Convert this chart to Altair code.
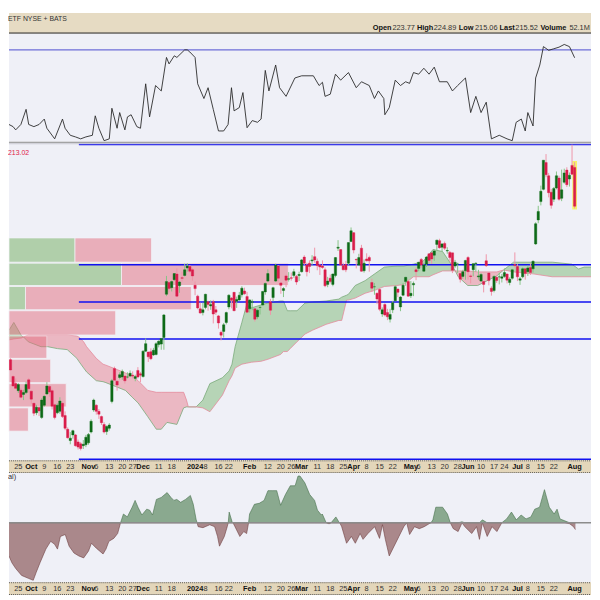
import altair as alt
import pandas as pd
import numpy as np

# ---------------- calendar (categories) ----------------
holidays = ["2023-11-23", "2023-12-25", "2024-01-01", "2024-01-15", "2024-02-19",
            "2024-03-29", "2024-05-27", "2024-06-19", "2024-07-04"]
all_days = [d.strftime("%Y-%m-%d") for d in pd.bdate_range("2023-09-20", "2024-08-01")]
days = [d for d in all_days if d not in holidays]
day_pos = {d: i - 3 for i, d in enumerate(days)}   # 2023-09-25 -> 0

# ---------------- daily candles ----------------
opens = [182.9,179.3,177.8,176.3,176.4,175.5,175.9,178.6,
  176.2,173.6,171.6,172.7,170.6,173.2,175.6,177.2,176.3,173.3,171.6,171.9,173.6,171.0,168.1,165.7,166.9,166.9,165.4,165.0,164.6,164.8,
  165.2,167.5,172.2,173.2,171.9,170.8,169.1,167.6,168.3,174.0,181.0,178.3,179.1,179.2,179.4,179.2,179.4,179.6,178.9,180.6,179.9,
  179.3,184.7,184.5,184.6,183.9,184.0,186.1,186.2,187.6,196.8,199.3,198.2,199.9,201.1,198.6,200.3,200.8,202.4,202.7,202.0,
  198.7,196.4,193.7,192.9,194.0,195.2,194.3,195.2,193.5,192.2,188.7,188.9,190.8,194.1,196.0,197.2,195.3,195.6,196.7,197.5,196.3,
  193.7,195.1,193.7,192.0,194.0,194.5,197.3,199.6,195.2,196.1,199.6,202.8,199.2,197.6,200.7,200.0,200.3,200.8,200.6,200.8,
  201.6,204.7,203.0,203.4,203.9,204.8,203.8,203.0,202.8,202.0,198.9,200.2,198.9,200.8,206.6,206.3,202.9,203.1,203.4,208.0,
  209.9,204.2,203.0,206.6,201.8,204.3,204.6,199.3,198.4,197.0,197.8,192.6,194.6,192.9,191.5,193.5,195.4,197.9,194.1,196.6,199.5,199.5,
  196.5,198.8,202.0,202.3,204.2,201.7,203.2,205.4,205.6,205.1,207.4,208.2,206.8,207.6,206.0,205.7,205.6,202.8,203.2,201.2,200.6,201.8,
  204.6,200.7,202.0,203.3,200.5,199.6,199.5,203.9,201.3,198.1,197.6,200.4,200.5,200.2,200.6,201.1,199.3,200.2,203.1,
  202.7,199.8,200.5,202.2,201.6,202.5,202.2,207.5,212.6,216.5,219.1,224.8,222.0,218.5,217.0,219.4,221.5,217.2,220.6,223.2,221.3,224.2,
  223.77]
highs = [183.2,179.6,178.9,177.9,176.9,176.5,178.2,179.0,
  176.3,173.8,173.3,173.0,174.7,175.3,178.1,177.5,176.7,173.6,173.6,174.9,174.0,171.9,168.5,167.5,168.0,167.1,165.9,165.4,165.8,166.9,
  167.3,170.2,174.6,173.4,172.4,171.0,169.6,168.9,169.4,178.8,181.4,178.5,180.2,180.8,179.5,180.2,180.6,180.4,179.7,181.3,180.3,
  184.9,187.4,184.6,185.3,185.4,186.6,187.0,187.5,192.6,200.7,199.6,199.7,201.3,202.3,199.6,201.6,203.3,203.4,203.0,202.4,
  199.5,196.7,195.0,195.0,196.9,195.4,195.5,195.6,194.3,192.4,189.1,190.7,193.1,196.8,196.2,197.3,196.3,197.3,198.5,198.2,197.3,
  195.7,195.7,193.8,193.6,194.5,197.5,199.3,202.1,195.8,198.4,203.3,203.0,199.4,198.3,201.0,201.5,201.4,202.2,200.9,201.6,
  204.3,205.1,203.5,204.0,205.1,206.7,204.4,203.3,204.0,202.5,200.5,201.0,201.2,204.7,208.3,206.4,203.5,203.9,207.8,211.0,
  210.0,204.4,205.4,207.3,204.2,205.5,205.0,200.1,199.2,197.2,198.1,194.0,194.9,193.7,193.7,195.4,198.7,198.0,196.4,199.2,200.5,199.9,
  199.6,199.5,202.5,203.7,204.5,203.5,204.9,205.4,205.6,206.3,208.4,208.6,207.7,208.0,206.8,206.0,205.6,204.1,203.5,201.4,202.0,204.1,
  204.9,201.0,203.4,203.6,202.0,201.3,199.6,205.3,201.5,198.5,200.8,200.8,201.4,201.1,202.3,201.2,200.4,202.2,205.7,
  203.2,200.5,202.5,202.3,202.9,203.3,204.0,212.1,215.6,219.9,225.3,226.6,222.6,219.2,219.6,222.9,222.0,223.3,223.5,223.8,222.7,228.6,
  224.89]
lows = [180.6,177.1,176.6,175.8,174.7,174.3,175.6,175.9,
  173.5,170.9,171.1,170.9,170.3,172.9,175.4,175.0,172.3,170.2,171.3,171.4,170.5,167.9,166.1,164.9,166.1,164.4,163.8,163.6,163.9,164.3,
  164.8,167.2,171.8,171.2,170.3,169.0,167.2,166.9,167.8,173.6,178.8,176.3,178.7,178.6,177.8,178.9,179.2,178.9,178.3,178.9,178.1,
  179.1,184.5,182.4,182.8,183.7,183.8,185.5,185.0,185.0,196.4,197.2,197.4,199.6,196.2,197.1,199.5,200.6,201.6,201.3,199.7,
  196.6,193.6,192.7,192.3,193.6,193.3,193.5,190.6,192.4,189.5,187.0,187.6,190.4,193.6,193.8,193.2,193.9,195.4,196.1,196.7,192.8,
  192.9,193.4,191.0,191.5,192.5,194.4,196.7,199.4,192.4,195.3,199.4,199.5,196.9,196.2,198.3,199.5,199.7,200.3,198.8,199.6,
  201.4,203.0,200.6,201.3,202.9,203.5,201.9,200.9,202.2,198.3,198.3,199.1,198.5,200.4,206.0,202.8,201.9,201.5,203.0,207.9,
  205.5,202.3,202.8,201.6,201.4,203.8,201.6,197.3,196.7,194.7,193.2,192.0,192.1,191.3,190.8,192.8,195.3,196.2,193.2,196.4,198.6,196.3,
  196.0,196.4,199.8,201.7,202.4,201.6,202.6,203.3,203.3,203.9,206.2,206.5,205.9,206.2,205.4,203.8,201.3,202.4,201.3,199.3,200.1,199.9,
  199.9,199.1,200.6,201.6,199.9,199.4,197.2,202.6,198.7,196.5,197.2,199.2,198.9,199.3,200.3,199.1,198.7,199.9,202.5,
  199.6,198.8,200.2,199.9,200.7,200.9,201.4,207.3,211.9,215.7,218.9,221.7,217.4,215.0,216.4,219.1,216.7,216.6,220.3,219.6,219.7,222.2,
  215.06]
closes = [180.7,177.3,176.8,177.6,174.9,175.9,177.6,176.7,
  174.5,171.5,172.8,172.0,174.3,175.1,177.3,176.0,173.0,170.6,173.2,174.1,170.8,168.3,166.3,166.2,167.8,164.6,164.3,164.0,164.9,166.4,
  167.0,169.8,174.3,171.9,171.3,169.5,167.5,168.7,169.0,178.4,178.5,177.5,179.7,180.4,178.4,179.2,180.0,179.4,179.3,179.2,179.6,
  184.7,186.3,183.5,183.1,184.9,186.3,186.8,187.4,192.4,199.5,198.0,199.5,201.2,196.4,199.4,200.2,202.0,202.8,201.7,200.7,
  198.0,193.9,192.8,193.5,196.8,194.6,194.6,192.6,193.0,190.7,188.1,190.3,192.9,196.6,195.5,193.3,195.7,196.6,198.1,196.9,193.0,
  195.6,195.2,191.5,193.4,194.0,197.4,199.1,201.2,193.4,198.2,203.0,200.2,198.7,198.0,199.8,200.1,200.2,201.6,199.4,201.0,
  204.1,203.4,201.6,202.7,204.1,204.1,202.9,202.6,202.5,198.6,199.6,199.5,201.1,204.6,206.8,203.0,202.0,202.0,207.8,210.3,
  206.2,204.1,204.6,201.7,203.4,203.9,203.9,198.1,198.4,195.8,193.6,193.5,192.4,192.0,192.5,195.0,198.4,197.2,196.2,198.7,200.4,196.4,
  197.0,199.1,201.6,203.6,203.0,203.0,204.7,204.0,204.3,206.0,208.3,206.7,207.5,206.6,206.1,204.6,201.9,203.6,203.2,200.0,201.6,204.0,
  201.6,200.6,203.3,203.4,200.7,201.0,198.9,202.9,199.7,197.4,200.6,199.7,200.5,200.5,201.4,199.8,200.0,202.0,202.9,
  200.5,200.1,202.2,201.2,202.4,201.4,203.8,211.8,214.4,218.7,225.3,222.2,218.4,215.7,219.3,222.0,217.0,219.0,222.6,220.1,222.1,222.3,
  215.52]
volume_last = "52.1M"
assert len(opens) == len(highs) == len(lows) == len(closes) == len(days)

# ---------------- Ichimoku cloud ----------------
cloud_seg = ([1] * 4 + [2] * 26 + [3] * 37 + [4] * 7 + [5] * 8)
cloud_idx = [-3.58, -1.72, 1.27, 2.0,
  2.0, 3.88, 8.73, 11.34, 15.07, 18.81, 22.54, 23.28, 25.15, 26.27, 30.0, 32.6, 33.7, 37.46, 41.2, 43.8, 46.1, 49.78, 53.1, 55.0, 57.2, 61.0, 63.6, 64.7, 65.4, 68.4,
  68.4, 71.0, 73.7, 78.5, 81.1, 82.2, 83.4, 86.0, 87.8, 89.7, 93.4, 96.0, 100.9, 102.0, 103.5, 104.6, 107.2, 110.3, 113.2, 118.4,
  123.3, 124.4, 126.3, 127.0, 129.6, 133.4, 137.1, 140.8, 145.7, 148.3, 152.0, 155.7, 158.0, 159.5, 163.2, 167.0, 168.1,
  168.1, 169.2, 172.9, 176.7, 181.9, 184.1, 186.7,
  186.7, 190.5, 197.9, 205.4, 212.9, 215.5, 217.7, 220.3]
span_a = [189.16, 190.81, 187.92, 187.72,
  187.72, 186.68, 185.65, 185.65, 185.24, 185.03, 183.17, 182.55, 181.11, 180.28, 178.42, 178.21, 178.01, 177.18, 176.36, 174.91, 173.68, 170.79, 168.10, 168.10, 169.55, 169.13, 172.64, 172.85, 172.85, 172.85,
  172.85, 174.30, 177.80, 179.04, 180.49, 181.93, 185.65, 190.81, 194.53, 193.91, 194.53, 194.94, 195.36, 195.36, 193.29, 193.29, 193.29, 194.94, 195.15, 195.36,
  195.77, 196.18, 196.60, 196.80, 198.66, 199.69, 201.14, 202.58, 202.79, 202.79, 203.20, 203.82, 205.27, 206.30, 205.89, 202.79, 201.76,
  201.76, 200.52, 198.66, 198.66, 200.11, 200.72, 201.97,
  201.97, 203.62, 203.62, 203.62, 203.20, 202.17, 202.58, 202.58]
span_b = [187.10, 187.30, 187.51, 187.72,
  187.72, 188.13, 188.13, 188.13, 188.13, 188.13, 187.92, 187.72, 186.68, 185.65, 183.17, 181.93, 181.72, 180.90, 180.07, 179.45, 178.42, 176.36, 175.95, 175.95, 175.95, 175.95, 175.95, 174.30, 172.85, 172.85,
  172.85, 172.64, 171.82, 175.33, 178.42, 179.45, 181.11, 181.93, 182.14, 182.35, 182.55, 182.97, 184.00, 184.62, 184.62, 185.24, 186.68, 188.34, 189.16, 190.40,
  191.23, 191.23, 195.56, 195.56, 195.98, 197.01, 197.63, 198.45, 198.66, 198.87, 200.52, 200.52, 200.52, 200.93, 201.76, 201.76, 201.76,
  201.76, 201.76, 201.76, 201.55, 201.55, 201.55, 201.97,
  201.97, 201.55, 201.14, 200.52, 200.52, 200.52, 200.52, 200.52]
assert len(cloud_seg) == len(cloud_idx) == len(span_a) == len(span_b)

# ---------------- volume by price ----------------
vbp_low = [203.62, 198.66, 193.50, 188.13, 183.17, 178.01, 172.85, 167.69]
vbp_high = [208.78, 203.41, 198.45, 193.29, 187.92, 182.97, 177.80, 172.64]
vbp_up = [68, 116, 17, 0, 0, 0, 0, 0]
vbp_down = [79, 172, 171, 110, 39, 43, 59, 20]

# ---------------- Fibonacci retracement ----------------
fib_levels = [228.63, 203.07, 195.17, 187.28, 161.70]
fib_start = "2023-10-27"

# ---------------- upper indicator ----------------
rsi_idx = [-3.6,-2,-1,1,3,4,6,8,10,11,14,17,18,20,22,24,26,28.5,29.6,31,33,35,36,38,39,41,42,43.4,45.6,47,49,50.5,52.8,55,57,58,60,61,64,65,66,68,69,71.4,73,75,77,79,80.7,82,83,85,86.4,88,90,92,93.4,95,96.4,99,100.5,103,106.4,109,113.5,115.7,117,118,120,122,124,127,130,132,135,137,138.5,140.6,141,142.7,145,147,149,150.5,152,154,156,158,160,162,165,167,169,172,174,176,178,180,182,185,188,190,191.5,193.5,195,196,198,199,200.6,202,204,206,208,210,212,214]
rsi_val = [16,14,11,16,30,16,14,16,21,12.5,2.7,21,12.5,6,4.5,2.7,4.5,6,24,12.5,1,2.7,31,12.5,27,11,23,25,14,12.5,53.6,23,52,47,78,72,79.5,78,85,85,83,78,53.6,40,50,30,10,10,16,50,28.6,31.6,45.5,13,19.6,18,21,66,47,71,50,42,59,61,61,52,55,42,44,62.5,57,64,50,55.5,52,40,47,40,25,31.6,57,52,55.5,54,64,62.5,68,62.5,69,55.5,55.5,47,52,59,27,42,27,36.6,2.7,6,2.7,1,18,21,10,27,14.6,59,71,88,84.6,86,87.5,90,88,77.7]
rsi_line = 85
assert len(rsi_idx) == len(rsi_val)

# ---------------- lower indicator ----------------
low_idx = [-3.58,-2.46,-0.97,1.27,3.88,5.75,6.87,8.36,9.48,10.6,12.46,13.96,15.07,16.19,18.06,19.55,21.42,23.28,25.15,27.01,28.13,30.0,32.61,33.73,34.85,36.72,38.21,39.33,40.45,41.94,43.8,44.93,46.04,47.54,49.4,50.52,51.64,53.13,55.0,57.24,58.73,59.85,60.97,62.46,64.33,66.19,67.31,68.43,68.8,69.18,71.04,73.65,75.52,76.64,77.39,79.25,80.37,80.75,81.12,82.24,82.6,83.36,85.22,86.72,87.84,88.58,88.96,90.82,92.69,94.55,96.04,97.91,99.4,100.9,102.76,104.63,106.49,107.61,108.36,110.22,112.09,113.96,115.07,116.57,116.94,118.43,119.55,120.3,122.16,123.28,123.66,124.4,126.27,128.13,129.63,131.49,132.61,134.48,137.09,138.96,140.07,141.19,142.69,144.55,146.42,148.28,149.4,150.52,152.39,154.25,156.12,157.99,158.73,159.48,160.6,163.21,165.07,166.19,167.31,169.18,170.67,171.79,174.4,176.27,177.39,178.51,180.37,182.24,184.1,185.97,187.84,189.7,191.57,193.43,195.3,197.16,198.66,200.52,202.39,204.25,206.12,207.24,208.36,210.22,212.09,213.58,214.3]
low_val = [-34,-41,-47,-54,-57,-59,-51,-41,-34,-27,-19,-22,-27,-14,-12,-24,-31,-34,-36,-29,-21,-26,-32,-27,-19,-16,-11,0,9,6,16,23,16,8,14,13,8,24,26,31,26,23,24,21,24,28,19,3,0,-4,-5,-2,-4,-14,-24,-14,-4,0,11,1,0,-4,-14,-9,-11,0,9,19,20,23,33,33,33,18,29,38,38,48,48,41,29,23,13,8,9,0,-1,0,6,1,0,-4,-21,-14,-21,-11,-17,-11,-4,-16,-2,-17,-34,-24,-14,-4,0,-12,-4,-6,-4,-1,0,3,16,16,9,0,-6,-9,1,-4,-11,-4,-17,3,-14,-4,-9,0,4,11,3,8,4,6,14,16,34,16,9,14,4,2,-1,-4,-7]
assert len(low_idx) == len(low_val)

# ---------------- date labels ----------------
tick_dates = ["2023-09-25","2023-10-02","2023-10-09","2023-10-16","2023-10-23","2023-11-01","2023-11-06","2023-11-13","2023-11-20","2023-11-27",
  "2023-12-01","2023-12-11","2023-12-18","2024-01-02","2024-01-08","2024-01-16","2024-01-22","2024-02-01","2024-02-12","2024-02-20",
  "2024-02-26","2024-03-01","2024-03-11","2024-03-18","2024-03-25","2024-04-01","2024-04-08","2024-04-15","2024-04-22","2024-05-01",
  "2024-05-06","2024-05-13","2024-05-20","2024-05-28","2024-06-03","2024-06-10","2024-06-17","2024-06-24","2024-07-01","2024-07-08",
  "2024-07-15","2024-07-22","2024-08-01"]
tick_labels = ["25","Oct","9","16","23","Nov","6","13","20","27","Dec","11","18","2024","8","16","22","Feb","12","20","26","Mar","11","18","25",
  "Apr","8","15","22","May","6","13","20","28","Jun","10","17","24","Jul","8","15","22","Aug"]

# ================= layout / styling =================
W = 592
H_HEAD, H_RSI, H_PRICE, H_DATE, H_LOW = 21, 110, 324, 13, 111
XD = [-3.58, 220.3]
PD = [161.49, 229.22]
BG = "#eff0f7"
TAN = "#e6dbc3"
FONT = "Liberation Sans"
UP, DN = "#0d6a17", "#d91c4a"
UPW, DNW = "#86c486", "#f095a8"

xs = alt.Scale(domain=XD, nice=False, zero=False)
ps = alt.Scale(domain=PD, nice=False, zero=False)
one = pd.DataFrame({"k": [0]})


def bg(h, color):
    return alt.Chart(one).mark_rect(color=color).encode(
        x=alt.value(0), x2=alt.value(W), y=alt.value(0), y2=alt.value(h))


def hline(ypix, color, width=1.0, dash=None):
    kw = dict(color=color, strokeWidth=width)
    if dash:
        kw["strokeDash"] = dash
    return alt.Chart(one).mark_rule(**kw).encode(
        x=alt.value(0), x2=alt.value(W), y=alt.value(ypix))


# ---- header ----
last_o, last_h, last_l, last_c = opens[-1], highs[-1], lows[-1], closes[-1]
hdr_words = [("Open", True), (f"{last_o:.2f}", False), ("High", True), (f"{last_h:.2f}", False),
             ("Low", True), (f"{last_l:.2f}", False), ("Last", True), (f"{last_c:.2f}", False),
             ("Volume", True), (volume_last, False)]
hdr_x = [370, 390, 415, 432, 457.5, 474, 499, 515, 540.5, 570]
head_layers = [bg(H_HEAD, TAN), hline(H_HEAD - 0.5, "#333333", 1.2),
               alt.Chart(one).mark_text(text="ETF NYSE + BATS", font=FONT, fontSize=7, align="left",
                                        baseline="middle", color="#333333").encode(
                   x=alt.value(-1), y=alt.value(6))]
for (w, b), xp in zip(hdr_words, hdr_x):
    head_layers.append(alt.Chart(one).mark_text(
        text=w, font=FONT, fontSize=7.5, fontWeight="bold" if b else "normal", align="left",
        baseline="middle", color="#111111" if b else "#333333").encode(
        x=alt.value(xp), y=alt.value(15.5)))
header = alt.layer(*head_layers).properties(width=W, height=H_HEAD)

# ---- upper indicator panel ----
rsi_df = pd.DataFrame({"idx": rsi_idx, "v": rsi_val})
rs = alt.Scale(domain=[0, 100], nice=False, zero=False)
rsi_panel = alt.layer(
    bg(H_RSI, BG),
    alt.Chart(pd.DataFrame({"v": [rsi_line]})).mark_rule(color="#6e6ed8", strokeWidth=1.3).encode(
        y=alt.Y("v:Q", scale=rs, axis=None), x=alt.value(0), x2=alt.value(W)),
    alt.Chart(rsi_df).mark_line(color="#2a2a2a", strokeWidth=0.9, clip=True).encode(
        x=alt.X("idx:Q", scale=xs, axis=None), y=alt.Y("v:Q", scale=rs, axis=None)),
).properties(width=W, height=H_RSI)

# ---- price panel ----
cdf = pd.DataFrame({"idx": [day_pos[d] for d in days], "o": opens, "h": highs, "l": lows, "c": closes})
cdf["x0"] = cdf["idx"] - 0.45
cdf["x1"] = cdf["idx"] + 0.45
hl = cdf.iloc[[-1]].copy()
hl["x0"] = hl["idx"] - 0.9
hl["x1"] = hl["idx"] + 0.9
hl["l2"] = hl["l"] - 0.25
hl["h2"] = hl["h"] + 0.25

cl = pd.DataFrame({"seg": cloud_seg, "idx": cloud_idx, "a": span_a, "b": span_b})
cl["kind"] = ["up" if s in (1, 3, 5) else "down" for s in cl["seg"]]

vb = pd.DataFrame({"lo": vbp_low, "hi": vbp_high, "up": vbp_up, "dn": vbp_down})
vb["zero"] = 0
vb["end"] = vb["up"] + vb["dn"]
vs = alt.Scale(domain=[0, 600], nice=False, zero=False)

fib = pd.DataFrame({"p": fib_levels})
fib["x0"] = day_pos[fib_start] - 0.7
fib["x1"] = XD[1]

Xi = lambda f: alt.X(f, type="quantitative", scale=xs, axis=None)
Yp = lambda f: alt.Y(f, type="quantitative", scale=ps, axis=None)

cloud_fill = alt.Chart(cl).mark_area(clip=True).encode(
    x=Xi("idx"), y=Yp("a"), y2="b", detail="seg:N",
    color=alt.Color("kind:N", scale=alt.Scale(domain=["up", "down"], range=["#b6d4b6", "#ebb8c3"]), legend=None))
cloud_a = alt.Chart(cl).mark_line(clip=True, color="#79a979", strokeWidth=0.8).encode(
    x=Xi("idx"), y=Yp("a"), detail="seg:N")
cloud_b = alt.Chart(cl).mark_line(clip=True, color="#e48a9c", strokeWidth=0.8).encode(
    x=Xi("idx"), y=Yp("b"), detail="seg:N")
vbp_g = alt.Chart(vb).mark_rect(color="#72b05f", opacity=0.5, stroke="#f6f6fa", strokeWidth=0.8).encode(
    x=alt.X("zero:Q", scale=vs, axis=None), x2="up:Q", y=Yp("lo"), y2="hi:Q")
vbp_r = alt.Chart(vb).mark_rect(color="#e46e7f", opacity=0.5, stroke="#f6f6fa", strokeWidth=0.8).encode(
    x=alt.X("up:Q", scale=vs, axis=None), x2="end:Q", y=Yp("lo"), y2="hi:Q")
fib_rules = alt.Chart(fib).mark_rule(color="#1010f0", strokeWidth=1.6, clip=True).encode(
    x=Xi("x0"), x2="x1:Q", y=Yp("p"))
highlight = alt.Chart(hl).mark_rect(color="#f7f26a", clip=True).encode(
    x=Xi("x0"), x2="x1:Q", y=Yp("l2"), y2="h2:Q")
candle_color = alt.condition("datum.c >= datum.o", alt.value(UP), alt.value(DN))
wick_color = alt.condition("datum.c >= datum.o", alt.value(UPW), alt.value(DNW))
wicks = alt.Chart(cdf).mark_rule(strokeWidth=1, clip=True).encode(
    x=Xi("idx"), y=Yp("l"), y2="h:Q", color=wick_color)
bodies = alt.Chart(cdf).mark_rect(clip=True, strokeWidth=0.4).encode(
    x=Xi("x0"), x2="x1:Q", y=Yp("o"), y2="c:Q", color=candle_color, stroke=candle_color)
price_text = alt.Chart(one).mark_text(text="213.02", font=FONT, fontSize=7, align="left",
                                      baseline="middle", color="#e0204a").encode(x=alt.value(-1), y=alt.value(11))

price_panel = alt.layer(
    bg(H_PRICE, BG), cloud_fill, cloud_a, cloud_b, vbp_g, vbp_r, fib_rules, highlight, wicks, bodies,
    hline(0.5, "#8a8a8a", 1), hline(2, "#c8c8d0", 1), price_text,
).resolve_scale(x="independent").properties(width=W, height=H_PRICE)

# ---- date bands ----
tk = pd.DataFrame({"idx": [day_pos[d] for d in tick_dates], "lab": tick_labels})
tk["bold"] = [(not s.isdigit()) or s == "2024" for s in tick_labels]


def date_band():
    return alt.layer(
        bg(H_DATE, "#e3d6ba"),
        hline(0.5, "#555555", 1, [1, 1]),
        hline(H_DATE - 0.5, "#555555", 1, [1, 1]),
        alt.Chart(tk[~tk["bold"]]).mark_text(font=FONT, fontSize=7.5, color="#333333", baseline="middle").encode(
            x=Xi("idx"), y=alt.value(H_DATE / 2 + 0.5), text="lab:N"),
        alt.Chart(tk[tk["bold"]]).mark_text(font=FONT, fontSize=7.5, fontWeight="bold", color="#111111",
                                            baseline="middle").encode(
            x=Xi("idx"), y=alt.value(H_DATE / 2 + 0.5), text="lab:N"),
    ).properties(width=W, height=H_DATE)


# ---- lower indicator panel ----
ldf = pd.DataFrame({"idx": low_idx, "v": low_val})
ldf["pos"] = ldf["v"].clip(lower=0)
ldf["neg"] = ldf["v"].clip(upper=0)
ls = alt.Scale(domain=[-61, 51], nice=False, zero=False)
low_panel = alt.layer(
    bg(H_LOW, BG),
    alt.Chart(ldf).mark_area(color="#5f8a62", line={"color": "#45704a", "strokeWidth": 0.6}, clip=True).encode(
        x=Xi("idx"), y=alt.Y("pos:Q", scale=ls, axis=None), y2=alt.Y2(datum=0)),
    alt.Chart(ldf).mark_area(color="#8d5b5c", line={"color": "#6f3f40", "strokeWidth": 0.6}, clip=True).encode(
        x=Xi("idx"), y=alt.Y("neg:Q", scale=ls, axis=None), y2=alt.Y2(datum=0)),
    alt.Chart(pd.DataFrame({"v": [0]})).mark_rule(color="#8c8c8c", strokeWidth=1.4).encode(
        y=alt.Y("v:Q", scale=ls, axis=None), x=alt.value(0), x2=alt.value(W)),
    alt.Chart(one).mark_text(text="al)", font=FONT, fontSize=7.5, align="left", baseline="middle",
                             color="#333333").encode(x=alt.value(-1), y=alt.value(4)),
).properties(width=W, height=H_LOW)

chart = alt.VConcatChart(
    vconcat=[header, rsi_panel, price_panel, date_band(), low_panel, date_band()],
    spacing=0, bounds="flush", padding=0, background="#ffffff",
).configure_view(stroke=None)

chart.save("out.html", embed_options={"renderer": "svg", "actions": False})
